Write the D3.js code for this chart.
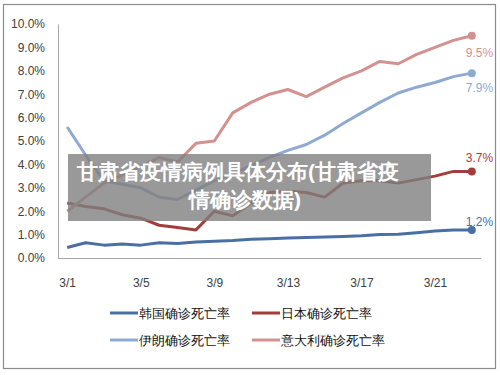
<!DOCTYPE html>
<html>
<head>
<meta charset="utf-8">
<script src="https://cdn.jsdelivr.net/npm/d3@7"></script>
<style>
  body { margin: 0; background: #fff; }
  svg text { font-family: "Liberation Sans", Arial, sans-serif; }
</style>
</head>
<body>
<div id="chart"></div>
<script>
// Data
const dates = ['3/1','3/2','3/3','3/4','3/5','3/6','3/7','3/8','3/9','3/10','3/11','3/12',
  '3/13','3/14','3/15','3/16','3/17','3/18','3/19','3/20','3/21','3/22','3/23'];
const tickDates = ['3/1','3/5','3/9','3/13','3/17','3/21'];
const seriesNames = ['韩国确诊死亡率','日本确诊死亡率','伊朗确诊死亡率','意大利确诊死亡率'];
const korea = [0.45,0.65,0.55,0.6,0.55,0.65,0.62,0.68,0.72,0.75,0.8,0.82,0.85,0.88,0.9,0.92,0.95,1.0,1.02,1.08,1.15,1.2,1.2];
const japan = [2.35,2.2,2.1,1.85,1.7,1.4,1.3,1.2,2.0,1.8,2.35,2.8,2.85,2.8,2.6,3.2,3.3,3.3,3.2,3.35,3.5,3.7,3.7];
const iran = [5.6,4.4,3.3,3.15,3.0,2.6,2.5,2.9,3.3,3.6,3.95,4.3,4.6,4.85,5.25,5.75,6.2,6.65,7.05,7.3,7.5,7.75,7.9];
const italy = [2.0,2.6,3.2,3.55,3.9,4.3,4.1,4.9,5.0,6.2,6.65,7.0,7.2,6.9,7.3,7.7,8.0,8.4,8.3,8.7,9.0,9.3,9.5];
const endLabels = ['1.2%','3.7%','7.9%','9.5%'];
const titleLines = ['甘肃省疫情病例具体分布(甘肃省疫','情确诊数据)'];

// Styles
const colors = ['#4a6fa5', '#a33d3c', '#8faad1', '#d39190'];
const labelDy = [-4, -9, 19, 21];
const titleX = [238, 245];

const W = 500, H = 375;
const plot = { left: 58, right: 481, top: 24, bottom: 258 };

const svg = d3.select('#chart').append('svg')
  .attr('width', W)
  .attr('height', H);

// outer frame
svg.append('rect')
  .attr('x', 3.5).attr('y', 4.5)
  .attr('width', 492).attr('height', 364)
  .attr('fill', '#fff')
  .attr('stroke', '#8c8c8c')
  .attr('stroke-width', 1.2);

// Scales
const x = d3.scalePoint().domain(dates).range([plot.left, plot.right]).padding(0.5);
const y = d3.scaleLinear().domain([0, 10]).range([plot.bottom, plot.top]);

// Axes
const yAxis = d3.axisLeft(y)
  .tickValues(d3.range(0, 11))
  .tickSize(0)
  .tickPadding(13)
  .tickFormat(d => d.toFixed(1) + '%');
const yg = svg.append('g')
  .attr('transform', `translate(${plot.left},0)`)
  .call(yAxis);
yg.select('.domain').attr('stroke', '#a6a6a6');
yg.selectAll('text').attr('font-size', 12).attr('fill', '#404040');

const xAxis = d3.axisBottom(x)
  .tickValues(tickDates)
  .tickSize(0)
  .tickPadding(20);
const xg = svg.append('g')
  .attr('transform', `translate(0,${plot.bottom})`)
  .call(xAxis);
xg.select('.domain').attr('stroke', '#a6a6a6').attr('d', `M${plot.left},0.5H${plot.right}`);
xg.selectAll('text').attr('font-size', 12).attr('fill', '#404040');

// Lines
const allSeries = [korea, japan, iran, italy];
const line = d3.line()
  .x((d, i) => x(dates[i]))
  .y(d => y(d));

allSeries.forEach((s, k) => {
  svg.append('path')
    .datum(s)
    .attr('fill', 'none')
    .attr('stroke', colors[k])
    .attr('stroke-width', 3)
    .attr('stroke-linejoin', 'round')
    .attr('d', line);

  const last = s.length - 1;
  svg.append('circle')
    .attr('cx', x(dates[last]))
    .attr('cy', y(s[last]))
    .attr('r', 4)
    .attr('fill', colors[k]);

  svg.append('text')
    .attr('x', x(dates[last]) - 6)
    .attr('y', y(s[last]) + labelDy[k])
    .attr('font-size', 12)
    .attr('fill', colors[k])
    .text(endLabels[k]);
});

// Legend
const legend = svg.append('g');
seriesNames.forEach((name, k) => {
  const lx = k % 2 === 0 ? 110 : 252;
  const ly = k < 2 ? 313 : 340;
  legend.append('line')
    .attr('x1', lx).attr('x2', lx + 28)
    .attr('y1', ly).attr('y2', ly)
    .attr('stroke', colors[k])
    .attr('stroke-width', 3);
  legend.append('text')
    .attr('x', lx + 29)
    .attr('y', ly + 5)
    .attr('font-size', 13)
    .attr('font-family', '"Noto Sans CJK SC", sans-serif')
    .attr('fill', '#111')
    .text(name);
});

// Title overlay
svg.append('rect')
  .attr('x', 68).attr('y', 154)
  .attr('width', 363).attr('height', 67)
  .attr('fill', '#7f7f7f')
  .attr('opacity', 0.8);

titleLines.forEach((t, i) => {
  svg.append('text')
    .attr('x', titleX[i])
    .attr('y', 179 + i * 28)
    .attr('text-anchor', 'middle')
    .attr('font-size', 21)
    .attr('font-weight', 'bold')
    .attr('font-family', '"Noto Sans CJK SC", sans-serif')
    .attr('fill', '#fff')
    .text(t);
});
</script>
</body>
</html>
